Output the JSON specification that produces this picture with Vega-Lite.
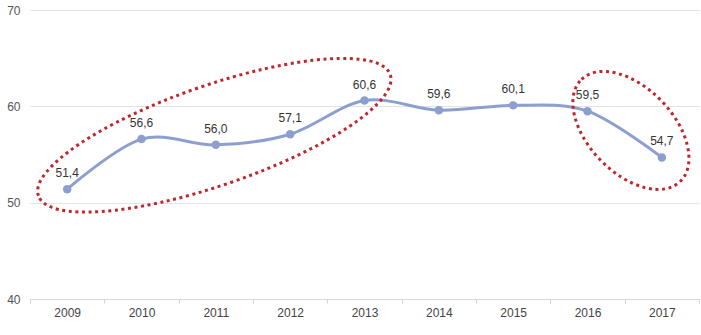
{
  "$schema": "https://vega.github.io/schema/vega-lite/v6.json",
  "width": 669,
  "height": 289,
  "autosize": {"type": "none"},
  "padding": {"left": 30, "top": 10, "right": 2, "bottom": 36},
  "background": "white",
  "config": {
    "view": {"stroke": null},
    "font": "Liberation Sans",
    "locale": {"number": {"decimal": ",", "thousands": ".", "grouping": [3], "currency": ["", " €"]}}
  },
  "datasets": {
    "series": [
      {"year": "2009", "value": 51.4},
      {"year": "2010", "value": 56.6},
      {"year": "2011", "value": 56.0},
      {"year": "2012", "value": 57.1},
      {"year": "2013", "value": 60.6},
      {"year": "2014", "value": 59.6},
      {"year": "2015", "value": 60.1},
      {"year": "2016", "value": 59.5},
      {"year": "2017", "value": 54.7}
    ],
    "highlights": [
      {"year": "2011", "value": 57.0, "outline": "M -177.4 60.6 A 186 50 -19 1 1 174.4 -60.6 A 186 50 -19 1 1 -177.4 60.6 Z"},
      {"year": "2016", "value": 57.5, "outline": "M -5.9 -51.1 A 71 42.5 46 1 1 92.7 51.1 A 71 42.5 46 1 1 -5.9 -51.1 Z"}
    ]
  },
  "encoding": {
    "x": {
      "field": "year",
      "type": "ordinal",
      "scale": {"type": "band", "paddingInner": 0, "paddingOuter": 0},
      "axis": {
        "title": null,
        "labelAngle": 0,
        "tickBand": "extent",
        "domainColor": "#d9d9d9",
        "tickColor": "#d0d0d0",
        "tickSize": 4,
        "labelPadding": 4,
        "labelFontSize": 12,
        "labelColor": "#444444",
        "labelFont": "Liberation Sans",
        "grid": false
      }
    },
    "y": {
      "field": "value",
      "type": "quantitative",
      "scale": {"domain": [40, 70], "nice": false, "zero": false},
      "axis": {
        "title": null,
        "values": [40, 50, 60, 70],
        "domain": false,
        "ticks": false,
        "grid": true,
        "gridColor": "#e3e3e3",
        "gridWidth": 1,
        "labelPadding": 10,
        "labelFontSize": 12,
        "labelColor": "#555555",
        "labelFont": "Liberation Sans"
      }
    }
  },
  "layer": [
    {
      "data": {"name": "series"},
      "mark": {"type": "line", "interpolate": "cardinal", "color": "#8c9fcf", "strokeWidth": 3}
    },
    {
      "data": {"name": "series"},
      "mark": {"type": "point", "filled": true, "color": "#8c9fcf", "size": 72, "opacity": 1}
    },
    {
      "data": {"name": "series"},
      "mark": {"type": "text", "baseline": "middle", "align": "center", "dy": -16, "fontSize": 12, "color": "#333333", "font": "Liberation Sans"},
      "encoding": {"text": {"field": "value", "type": "quantitative", "format": ".1f"}}
    },
    {
      "data": {"name": "highlights"},
      "mark": {"type": "point", "filled": false, "size": 4, "stroke": "#c0272d", "strokeWidth": 3, "strokeDash": [3, 3.6], "opacity": 1},
      "encoding": {"shape": {"field": "outline", "type": "nominal", "scale": null}}
    }
  ]
}
